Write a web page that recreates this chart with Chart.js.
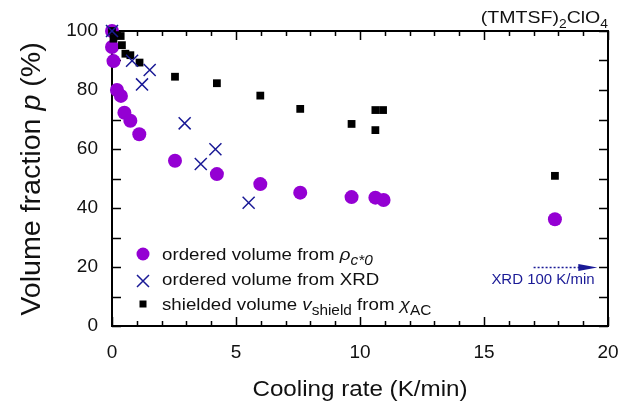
<!DOCTYPE html>
<html>
<head>
<meta charset="utf-8">
<script src="https://cdn.jsdelivr.net/npm/chart.js@4.4.1/dist/chart.umd.min.js"></script>
<style>
  html, body { margin: 0; padding: 0; background: #fff; }
  #wrap { width: 636px; height: 405px; }
</style>
</head>
<body>
<div id="wrap"><canvas id="volumeChart" width="636" height="405"></canvas></div>
<script>
// ordered volume from rho_c*0
const rhoRate = [0, 0, 0.06, 0.2, 0.36, 0.5, 0.74, 1.1, 2.54, 4.23, 5.98, 7.59, 9.66, 10.62, 10.95, 17.86];
const rhoVolume = [100, 94.6, 89.8, 80.0, 78.0, 72.3, 69.6, 65.0, 56.0, 51.5, 48.1, 45.2, 43.7, 43.5, 42.7, 36.2];

// ordered volume from XRD
const xrdRate = [0, 0.81, 1.21, 1.52, 2.93, 3.58, 4.17, 5.51];
const xrdVolume = [100, 89.9, 81.9, 86.8, 68.7, 54.9, 59.9, 41.8];

// shielded volume from chi_AC
const shieldRate = [0, 0.06, 0.2, 0.35, 0.4, 0.54, 0.74, 1.11, 2.54, 4.23, 5.98, 7.59, 9.66, 10.62, 10.62, 10.93, 17.86];
const shieldVolume = [100, 97.4, 98.6, 98.3, 95.2, 92.3, 91.8, 89.3, 84.5, 82.3, 78.1, 73.6, 68.5, 73.2, 66.4, 73.2, 50.9];

// tick labels
const rateTicks = [0, 5, 10, 15, 20];
const volumeTicks = [0, 20, 40, 60, 80, 100];

// "XRD 100 K/min" arrow (off-scale point)
const arrowRate = [17.0, 19.57];
const arrowVolume = 20;
const arrowLabelRate = 17.39;
const arrowLabelVolume = 14.1;

const FONT = 'Arial, "Liberation Sans", Helvetica, sans-serif';
const purple = '#9400d3';
const navy = '#1a1a96';
const ink = '#111111';

function toPoints(xs, ys) {
  return xs.map((x, i) => ({ x: x, y: ys[i] }));
}

// draws a line of text made of runs (italic / subscript), stretched a bit in x
function richText(ctx, runs, x, y, opts) {
  const size = opts.size;
  const sx = opts.sx || 1;
  const subK = opts.subK || 0.72;
  const fontOf = r => (r.it ? 'italic ' : '') + Math.round(r.sub ? size * subK : size) + 'px ' + FONT;
  let w = 0;
  runs.forEach(r => {
    ctx.font = fontOf(r);
    r.w = ctx.measureText(r.t).width;
    w += r.w;
  });
  ctx.save();
  ctx.translate(Math.round(x), Math.round(y));
  if (opts.rot) ctx.rotate(opts.rot);
  ctx.scale(sx, 1);
  let cx = opts.align === 'center' ? -w / 2 : opts.align === 'right' ? -w : 0;
  ctx.fillStyle = opts.color || ink;
  ctx.textBaseline = 'alphabetic';
  ctx.textAlign = 'left';
  runs.forEach(r => {
    ctx.font = fontOf(r);
    ctx.fillText(r.t, cx, r.sub ? Math.round(size * 0.28) : 0);
    cx += r.w;
  });
  ctx.restore();
}

// frame and inward ticks on all four sides
const framePlugin = {
  id: 'frame',
  beforeDatasetsDraw(chart) {
    const ctx = chart.ctx;
    const a = chart.chartArea;
    const xs = chart.scales.x;
    const ys = chart.scales.y;
    ctx.save();
    ctx.strokeStyle = '#000';
    ctx.lineWidth = 1.5;
    ctx.beginPath();
    for (let v = xs.min; v <= xs.max; v += 1) {
      const px = Math.round(xs.getPixelForValue(v)) + 0.5;
      const len = v % 5 === 0 ? 9 : 5;
      ctx.moveTo(px, a.bottom); ctx.lineTo(px, a.bottom - len);
      ctx.moveTo(px, a.top); ctx.lineTo(px, a.top + len);
    }
    for (let v = ys.min; v <= ys.max; v += 10) {
      const py = Math.round(ys.getPixelForValue(v)) + 0.5;
      ctx.moveTo(a.left, py); ctx.lineTo(a.left + 9, py);
      ctx.moveTo(a.right, py); ctx.lineTo(a.right - 9, py);
    }
    ctx.stroke();
    ctx.lineWidth = 2;
    ctx.strokeRect(a.left, a.top, a.right - a.left, a.bottom - a.top);
    ctx.restore();
  },
  afterDraw(chart) {
    const ctx = chart.ctx;
    const a = chart.chartArea;
    const xs = chart.scales.x;
    const ys = chart.scales.y;

    // titles
    richText(ctx, [{ t: '(TMTSF)' }, { t: '2', sub: 1 }, { t: 'ClO' }, { t: '4', sub: 1 }],
      a.right, 23, { size: 17, sx: 1.15, align: 'right' });
    richText(ctx, [{ t: 'Cooling rate (K/min)' }],
      (a.left + a.right) / 2, 396, { size: 22, sx: 1.1, align: 'center' });
    richText(ctx, [{ t: 'Volume fraction ' }, { t: 'p', it: 1 }, { t: ' (%)' }],
      40, (a.top + a.bottom) / 2, { size: 27, sx: 1.06, align: 'center', rot: -Math.PI / 2 });

    // legend
    const lx = a.left + 31;
    const tx = a.left + 50;
    ctx.save();
    ctx.fillStyle = purple;
    ctx.beginPath();
    ctx.arc(lx, a.bottom - 72, 6.5, 0, Math.PI * 2);
    ctx.fill();
    ctx.strokeStyle = navy;
    ctx.lineWidth = 1.5;
    ctx.beginPath();
    ctx.moveTo(lx - 6, a.bottom - 51); ctx.lineTo(lx + 6, a.bottom - 39);
    ctx.moveTo(lx - 6, a.bottom - 39); ctx.lineTo(lx + 6, a.bottom - 51);
    ctx.stroke();
    ctx.fillStyle = '#000';
    ctx.fillRect(lx - 3.5, a.bottom - 25.5, 7, 7);
    ctx.restore();
    const lg = { size: 17, sx: 1.1, subK: 0.8 };
    richText(ctx, [{ t: 'ordered volume from ' }, { t: 'ρ', it: 1 }, { t: 'c*0', it: 1, sub: 1 }],
      tx, a.bottom - 66, lg);
    richText(ctx, [{ t: 'ordered volume from XRD' }],
      tx, a.bottom - 41, lg);
    richText(ctx, [{ t: 'shielded volume ' }, { t: 'v', it: 1 }, { t: 'shield', sub: 1 }, { t: ' from ' }, { t: 'χ', it: 1 }, { t: 'AC', sub: 1 }],
      tx, a.bottom - 16, lg);

    // dotted arrow for the 100 K/min XRD point
    const x0 = xs.getPixelForValue(arrowRate[0]);
    const x1 = xs.getPixelForValue(arrowRate[1]);
    const ay = Math.round(ys.getPixelForValue(arrowVolume)) + 0.5;
    ctx.save();
    ctx.strokeStyle = navy;
    ctx.fillStyle = navy;
    ctx.lineWidth = 1.5;
    ctx.setLineDash([2, 2]);
    ctx.beginPath();
    ctx.moveTo(x0, ay); ctx.lineTo(x1 - 16, ay);
    ctx.stroke();
    ctx.setLineDash([]);
    ctx.beginPath();
    ctx.moveTo(x1, ay);
    ctx.lineTo(x1 - 19, ay - 3.5);
    ctx.lineTo(x1 - 19, ay + 3.5);
    ctx.closePath();
    ctx.fill();
    ctx.restore();
    richText(ctx, [{ t: 'XRD 100 K/min' }],
      xs.getPixelForValue(arrowLabelRate), ys.getPixelForValue(arrowLabelVolume),
      { size: 14, sx: 1.07, align: 'center', color: navy });
  }
};

const ctx = document.getElementById('volumeChart').getContext('2d');

new Chart(ctx, {
  type: 'scatter',
  data: {
    datasets: [
      {
        label: 'ordered volume from rho',
        data: toPoints(rhoRate, rhoVolume),
        pointStyle: 'circle',
        pointRadius: 7,
        pointBackgroundColor: purple,
        pointBorderColor: purple,
        pointBorderWidth: 0,
        clip: false,
        order: 3
      },
      {
        label: 'shielded volume',
        data: toPoints(shieldRate, shieldVolume),
        pointStyle: 'rect',
        pointRadius: 5.5,
        pointBackgroundColor: '#000',
        pointBorderColor: '#000',
        pointBorderWidth: 0,
        clip: false,
        order: 2
      },
      {
        label: 'ordered volume from XRD',
        data: toPoints(xrdRate, xrdVolume),
        pointStyle: 'crossRot',
        pointRadius: 8.5,
        pointBorderColor: navy,
        pointBorderWidth: 1.5,
        clip: false,
        order: 1
      }
    ]
  },
  options: {
    responsive: false,
    animation: false,
    events: [],
    layout: { padding: { top: 31, right: 28, left: 0, bottom: 0 } },
    plugins: {
      legend: { display: false },
      tooltip: { enabled: false }
    },
    scales: {
      x: {
        type: 'linear',
        min: 0,
        max: 20,
        grid: { display: false, drawTicks: false },
        border: { display: false },
        ticks: { color: ink, padding: 15, maxRotation: 0, font: { size: 19, family: FONT } },
        afterBuildTicks: s => { s.ticks = rateTicks.map(v => ({ value: v })); },
        afterFit: s => { s.height = 79; }
      },
      y: {
        type: 'linear',
        min: 0,
        max: 100,
        grid: { display: false, drawTicks: false },
        border: { display: false },
        ticks: { color: ink, padding: 14, font: { size: 19, family: FONT } },
        afterBuildTicks: s => { s.ticks = volumeTicks.map(v => ({ value: v })); },
        afterFit: s => { s.width = 112; }
      }
    }
  },
  plugins: [framePlugin]
});
</script>
</body>
</html>
